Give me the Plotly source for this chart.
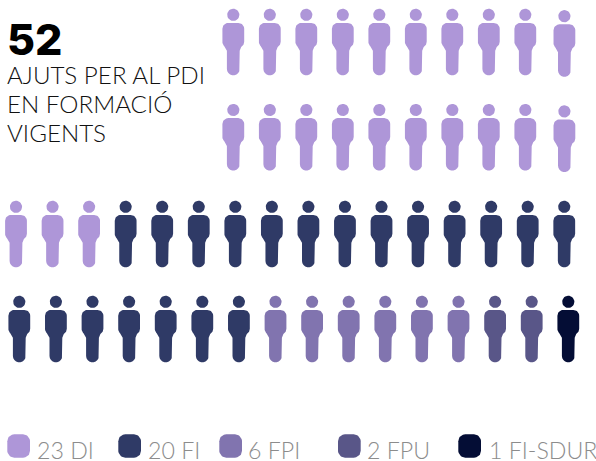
import numpy as np
import plotly.graph_objects as go

categories = ["DI", "FI", "FPI", "FPU", "FI-SDUR"]
counts = [23, 20, 6, 2, 1]
colors = ["#AE96D8", "#2F3A66", "#8174AF", "#595688", "#040D35"]
total = "52"
subtitle = ["AJUTS PER AL PDI", "EN FORMACIÓ", "VIGENTS"]
row_sizes = [10, 10, 16, 16]

W, H = 596, 461
ROW_X0 = [233.3, 233.3, 16.0, 19.3]
ROW_STEP = [36.5, 36.5, 36.55, 36.6]
ROW_Y = [14.8, 110.0, 206.8, 301.8]


def arc(cx, cy, r, a0, a1, n=10):
    t = np.radians(np.linspace(a0, a1, n))
    return list(cx + r * np.cos(t)), list(cy + r * np.sin(t))


def person(cx, cy):
    hx, hy = arc(cx, cy, 6.1, 0, 360, 28)
    bx, by = [], []
    for c, r, a0, a1 in [
        ((-5.0, 14.0), 5.9, 180, 270),
        ((5.0, 14.0), 5.9, 270, 360),
        ((4.9, 27.0), 6.0, 0, 60),
        ((0.0, 54.2), 6.4, 0, 180),
        ((-4.9, 27.0), 6.0, 120, 180),
    ]:
        ax, ay = arc(cx + c[0], cy + c[1], r, a0, a1)
        if a0 == 0 and a1 == 180:
            ax = [cx + 6.4] + ax + [cx - 6.4]
            ay = [cy + 36.0] + ay + [cy + 36.0]
        bx += ax
        by += ay
    return hx + [None] + bx + [bx[0], None], hy + [None] + by + [by[0], None]


def swatch(x0, y0, w=22.7, h=23.4, r=7):
    xs, ys = [], []
    for c, a0, a1 in [
        ((x0 + r, y0 + r), 180, 270),
        ((x0 + w - r, y0 + r), 270, 360),
        ((x0 + w - r, y0 + h - r), 0, 90),
        ((x0 + r, y0 + h - r), 90, 180),
    ]:
        ax, ay = arc(c[0], c[1], r, a0, a1)
        xs += ax
        ys += ay
    return xs + [xs[0]], ys + [ys[0]]


seats = []
for ri, size in enumerate(row_sizes):
    for ci in range(size):
        x = ROW_X0[ri] + ci * ROW_STEP[ri]
        y = ROW_Y[ri]
        if ri < 2 and ci == 9:
            x = 564.4
            y += 1.4
        seats.append((x, y))

fig = go.Figure()
pos = 0
for name, n, col in zip(categories, counts, colors):
    xs, ys = [], []
    for sx, sy in seats[pos:pos + n]:
        px, py = person(sx, sy)
        xs += px
        ys += py
    pos += n
    fig.add_trace(go.Scatter(x=xs, y=ys, mode="lines", fill="toself", fillcolor=col,
                             line=dict(width=0, color=col), name=name,
                             hoverinfo="name", showlegend=False))

SWATCH_X = [7.3, 118.3, 219.3, 338.0, 458.3]
LABEL_X = [37, 147.5, 247.5, 367.3, 488.5]
for name, n, col, sxp, lx in zip(categories, counts, colors, SWATCH_X, LABEL_X):
    px, py = swatch(sxp, 434.3)
    fig.add_trace(go.Scatter(x=px, y=py, mode="lines", fill="toself", fillcolor=col,
                             line=dict(width=0, color=col), hoverinfo="skip",
                             showlegend=False))
    fig.add_annotation(x=lx, y=449.5, text=f"{n} {name}", showarrow=False, xanchor="left",
                       yanchor="middle", xshift=-2,
                       font=dict(family="Lato", size=23.2, color="#8C8C8C", weight=300))

fig.add_annotation(x=4.5, y=38.5, text=total, showarrow=False, xanchor="left", yanchor="middle",
                   font=dict(family="Inter", size=43, color="#000000", weight=800))
for line, yy in zip(subtitle, [74.2, 103.2, 132.2]):
    fig.add_annotation(x=7, y=yy, text=line, showarrow=False, xanchor="left", yanchor="middle",
                       xshift=-2,
                       font=dict(family="Lato", size=24.2, color="#111111", weight=300))

fig.update_xaxes(range=[0, W], visible=False, fixedrange=True)
fig.update_yaxes(range=[H, 0], visible=False, fixedrange=True)
fig.update_layout(width=W, height=H, margin=dict(l=0, r=0, t=0, b=0),
                  paper_bgcolor="white", plot_bgcolor="white", showlegend=False)
fig.write_html("out.html", config={"displayModeBar": False},
               post_script="document.body.style.margin='0';document.body.style.overflow='hidden';")
